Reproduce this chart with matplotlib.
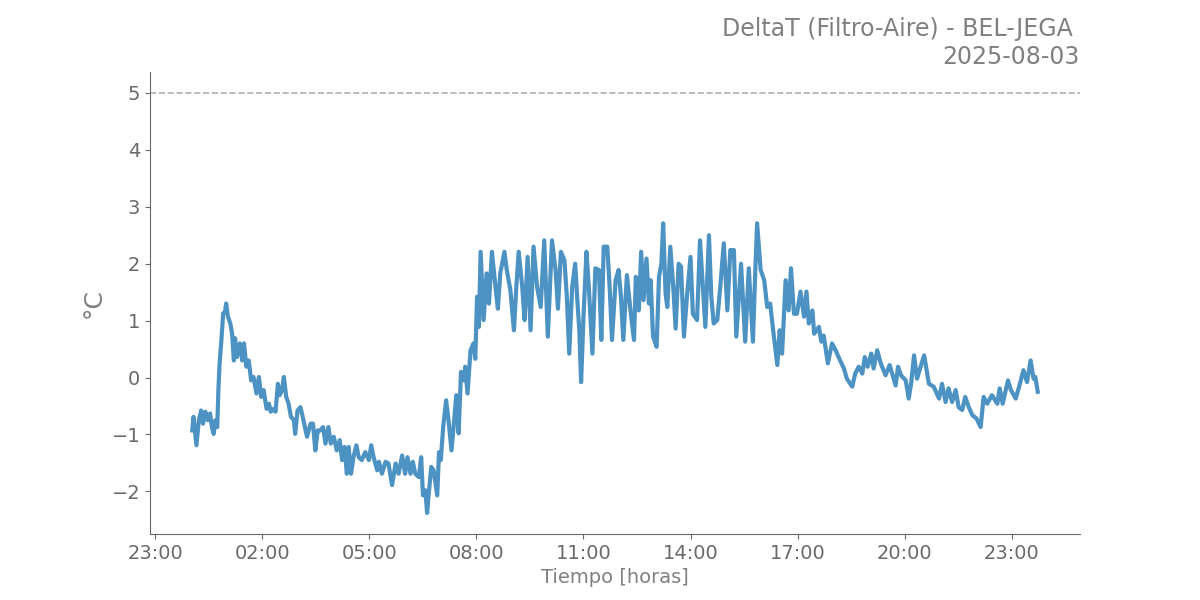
import numpy as np
import pandas as pd
import matplotlib
matplotlib.use("Agg")
import matplotlib.pyplot as plt
import matplotlib.dates as mdates
from matplotlib.ticker import MultipleLocator

# minutes after midnight on 2025-08-03, and DeltaT (Filtro-Aire) in °C
minutos = [
    2, 4, 9, 13, 17, 20, 24, 28, 32, 35, 38, 41, 44, 46, 48, 51, 54, 57, 59, 62,
    66, 69, 72, 74, 77, 82, 86, 89, 93, 97, 101, 105, 110, 114, 118, 122, 127, 131, 134, 139,
    142, 146, 149, 153, 156, 160, 164, 168, 173, 175, 179, 184, 189, 195, 201, 205, 209, 213, 217, 222,
    226, 231, 235, 240, 245, 250, 254, 258, 262, 265, 269, 273, 278, 282, 287, 293, 299, 303, 307, 313,
    316, 321, 327, 332, 338, 344, 349, 355, 360, 364, 369, 373, 377, 383, 387, 390, 394, 397, 400, 404,
    408, 414, 417, 420, 424, 429, 433, 438, 442, 446, 450, 454, 459, 461, 465, 470, 475, 478, 481, 484,
    487, 492, 497, 501, 506, 512, 516, 520, 527, 531, 537, 543, 547, 551, 557, 561, 566, 571, 576, 582,
    588, 594, 600, 607, 613, 617, 622, 628, 632, 636, 641, 646, 650, 653, 656, 660, 665, 669, 672, 675,
    680, 686, 690, 694, 700, 704, 708, 714, 719, 723, 727, 733, 739, 745, 748, 753, 757, 761, 766, 770,
    773, 777, 783, 787, 791, 794, 798, 801, 806, 811, 815, 820, 824, 829, 834, 840, 844, 851, 856, 859,
    865, 871, 875, 879, 885, 890, 896, 902, 907, 913, 917, 925, 932, 938, 945, 949, 952, 958, 964, 969,
    974, 979, 983, 986, 990, 994, 1000, 1005, 1009, 1014, 1019, 1025, 1031, 1035, 1039, 1045, 1048, 1056, 1060, 1064,
    1071, 1078, 1084, 1089, 1098, 1103, 1112, 1117, 1123, 1129, 1133, 1138, 1144, 1148, 1154, 1160, 1168, 1175, 1185, 1189,
    1194, 1202, 1207, 1211, 1216, 1221, 1227, 1233, 1241, 1249, 1258, 1263, 1269, 1274, 1280, 1286, 1291, 1297, 1302, 1308,
    1314, 1321, 1328, 1333, 1339, 1347, 1356, 1360, 1365, 1374, 1379, 1387, 1394, 1400, 1406, 1412, 1417, 1420, 1424,
]
delta_t = [
    -0.93, -0.69, -1.19, -0.75, -0.58, -0.81, -0.60, -0.75, -0.63, -0.87, -0.99, -0.75, -0.87, -0.20, 0.25, 0.66, 1.13, 1.15, 1.30, 1.07,
    0.95, 0.77, 0.30, 0.69, 0.36, 0.60, 0.30, 0.60, 0.19, 0.30, -0.05, 0.01, -0.28, 0.01, -0.34, -0.22, -0.55, -0.46, -0.60, -0.55,
    -0.60, -0.11, -0.31, -0.22, 0.01, -0.34, -0.46, -0.69, -0.75, -0.99, -0.58, -0.52, -0.75, -1.04, -0.81, -0.81, -1.28, -0.93, -0.93, -0.87,
    -1.16, -0.87, -1.16, -1.04, -1.28, -1.10, -1.45, -1.22, -1.69, -1.22, -1.69, -1.40, -1.19, -1.40, -1.45, -1.31, -1.45, -1.19, -1.40, -1.63,
    -1.48, -1.69, -1.48, -1.51, -1.89, -1.51, -1.69, -1.37, -1.69, -1.40, -1.69, -1.48, -1.69, -1.75, -1.40, -2.07, -1.98, -2.38, -2.01, -1.57,
    -1.63, -2.07, -1.31, -1.45, -0.87, -0.40, -0.75, -1.28, -0.81, -0.31, -0.98, 0.10, -0.05, 0.19, -0.28, 0.48, 0.60, 0.33, 1.42, 0.89,
    2.21, 1.01, 1.83, 1.30, 2.21, 1.59, 1.21, 1.83, 2.21, 1.89, 1.54, 0.83, 1.59, 2.21, 1.59, 1.01, 2.12, 0.83, 2.30, 1.59,
    1.24, 2.41, 0.72, 2.41, 1.89, 1.21, 2.21, 2.06, 1.42, 0.42, 1.59, 2.00, 1.30, 0.83, -0.08, 1.07, 2.21, 1.59, 1.01, 0.42,
    1.92, 1.89, 0.66, 2.30, 2.30, 1.59, 0.66, 1.71, 1.89, 1.42, 0.66, 1.80, 1.18, 0.66, 1.77, 1.18, 2.21, 1.36, 2.09, 1.30,
    1.71, 0.72, 0.54, 1.77, 2.00, 2.71, 1.48, 1.24, 2.30, 1.59, 0.86, 2.00, 1.95, 0.72, 1.42, 2.12, 1.12, 1.01, 2.41, 1.89,
    0.89, 2.50, 1.42, 0.95, 1.01, 1.59, 2.36, 1.18, 2.24, 2.24, 0.72, 2.00, 0.63, 1.92, 0.63, 1.89, 2.71, 1.89, 1.71, 1.24,
    1.30, 0.83, 0.48, 0.22, 0.83, 0.42, 1.71, 1.18, 1.92, 1.12, 1.12, 1.51, 1.07, 1.51, 0.95, 1.18, 0.77, 0.89, 0.63, 0.74,
    0.25, 0.60, 0.48, 0.36, 0.16, -0.02, -0.16, 0.07, 0.19, 0.07, 0.36, 0.19, 0.42, 0.16, 0.48, 0.25, 0.04, 0.22, -0.14, 0.19,
    0.04, -0.05, -0.37, -0.11, 0.39, -0.02, 0.19, 0.39, -0.11, -0.16, -0.37, -0.11, -0.43, -0.19, -0.43, -0.22, -0.52, -0.57, -0.34, -0.52,
    -0.66, -0.72, -0.87, -0.34, -0.46, -0.31, -0.46, -0.19, -0.46, -0.05, -0.22, -0.37, -0.11, 0.13, -0.08, 0.30, -0.02, 0.01, -0.25,
]
fecha = "2025-08-03"
estacion = "BEL-JEGA"
umbral = 5

tiempo = pd.Timestamp(fecha) + pd.to_timedelta(minutos, unit="min")

fig, ax = plt.subplots(figsize=(12, 6), dpi=100)
ax.plot(tiempo, delta_t, color="tab:blue", alpha=0.8, lw=3)
ax.axhline(umbral, color="#b0b0b0", ls="--", lw=1.2)

ax.set_title(f"DeltaT (Filtro-Aire) - {estacion} \n{fecha}", loc="right",
             fontsize=17, color="gray")
ax.set_xlabel("Tiempo [horas]", fontsize=14, color="gray")
ax.set_ylabel("°C", fontsize=18, color="gray")

ax.xaxis.set_major_locator(mdates.HourLocator(byhour=[2, 5, 8, 11, 14, 17, 20, 23]))
ax.xaxis.set_major_formatter(mdates.DateFormatter("%H:%M"))
ax.yaxis.set_major_locator(MultipleLocator(1))

for s in ["top", "right"]:
    ax.spines[s].set_visible(False)
for s in ["left", "bottom"]:
    ax.spines[s].set_color("dimgray")
ax.tick_params(labelsize=14, colors="dimgray")

fig.savefig("out.png")
